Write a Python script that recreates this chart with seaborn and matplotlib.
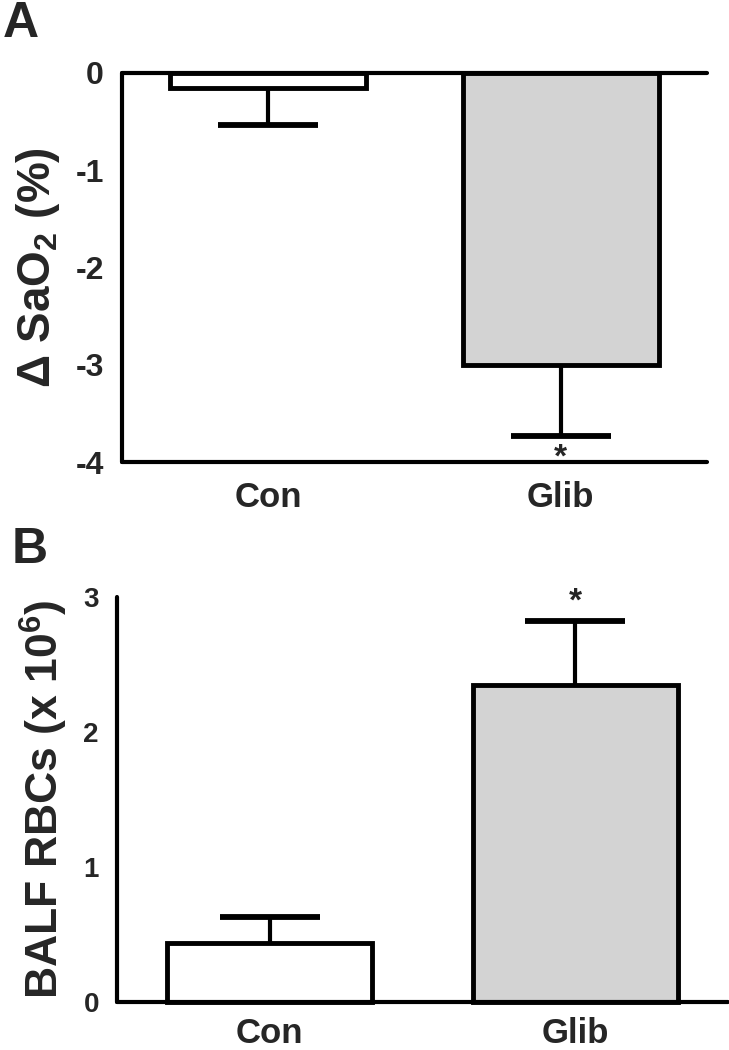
import numpy as np
import pandas as pd
import matplotlib
matplotlib.use('Agg')
import matplotlib.pyplot as plt
import seaborn as sns

groups = ['Con', 'Glib']
sao2_mean = [-0.15, -3.00]
sao2_sem = [0.38, 0.73]
rbc_mean = [0.44, 2.35]
rbc_sem = [0.19, 0.47]
bar_colors = ['white', '#d3d3d3']

sns.set_style('white')
plt.rcParams['font.family'] = ['Liberation Sans', 'DejaVu Sans']
plt.rcParams['font.weight'] = 'bold'
plt.rcParams['axes.unicode_minus'] = False
plt.rcParams['mathtext.fontset'] = 'custom'
plt.rcParams['mathtext.rm'] = 'Liberation Sans'
plt.rcParams['mathtext.bf'] = 'Liberation Sans:bold'
plt.rcParams['mathtext.default'] = 'bf'

narrow = ['Liberation Sans Narrow', 'Liberation Sans', 'DejaVu Sans']

fig = plt.figure(figsize=(7.29, 10.5), dpi=100)
ax1 = fig.add_axes([0.1674, 0.56, 0.8025, 0.3705])
ax2 = fig.add_axes([0.1605, 0.0457, 0.838, 0.3857])

lw = 3.0


def draw_panel(ax, mean, sem, ylabel, xpad, ysize, lsize):
    df = pd.DataFrame({'group': groups, 'value': mean})
    sns.barplot(data=df, x='group', y='value', hue='group', palette=bar_colors,
                edgecolor='black', linewidth=3.5, width=0.67, legend=False, ax=ax)
    for p in ax.patches:
        p.set_clip_on(False)
    xs = np.arange(len(groups))
    for x, m, e in zip(xs, mean, sem):
        yerr = [[e], [0]] if m < 0 else [[0], [e]]
        eb = ax.errorbar([x], [m], yerr=yerr, fmt='none', ecolor='black',
                         elinewidth=3.0, capsize=36, capthick=4.2, zorder=5)
        caps = eb[1]
        # keep only the cap at the far end of the bar
        if m < 0:
            caps[1].set_visible(False)
        else:
            caps[0].set_visible(False)
        for c in caps:
            c.set_clip_on(False)
        for b in eb[2]:
            b.set_clip_on(False)
    ax.set_xlim(-0.5, 1.5)
    ax.set_xlabel('')
    ax.set_ylabel(ylabel, fontsize=lsize, fontweight='bold', labelpad=10)
    ax.tick_params(axis='y', direction='out', length=7, width=lw, pad=6)
    ax.tick_params(axis='x', length=0, pad=xpad, labelsize=25)
    for lab in ax.get_xticklabels():
        lab.set_fontweight('bold')
    for lab in ax.get_yticklabels():
        lab.set_fontweight('bold')
        lab.set_family(narrow)
        lab.set_fontsize(ysize)
    for s in ax.spines.values():
        s.set_linewidth(lw)
        s.set_color('black')
        s.set_capstyle('round')


# panel A
ax1.set_ylim(-4, 0)
ax1.set_yticks([0, -1, -2, -3, -4])
draw_panel(ax1, sao2_mean, sao2_sem, r'$\mathrm{\Delta}$ SaO$_2$ (%)', 14, 23, 33)
ax1.set_ylim(-4, 0)
ax1.spines['right'].set_visible(False)
ax1.text(1, sao2_mean[1] - sao2_sem[1] - 0.07, '*', ha='center', va='top',
         fontsize=24, fontweight='bold')

# panel B
ax2.set_ylim(0, 3)
ax2.set_yticks([0, 1, 2, 3])
draw_panel(ax2, rbc_mean, rbc_sem, r'BALF RBCs (x 10$^6$)', 11, 20, 32)
ax2.set_ylim(0, 3)
ax2.spines['right'].set_visible(False)
ax2.spines['top'].set_visible(False)
ax2.text(1, rbc_mean[1] + rbc_sem[1] + 0.03, '*', ha='center', va='bottom',
         fontsize=24, fontweight='bold')

fig.text(0.004, 0.999, 'A', fontsize=36, fontweight='bold', va='top', ha='left')
fig.text(0.016, 0.498, 'B', fontsize=36, fontweight='bold', va='top', ha='left')

fig.savefig('out.png', dpi=100)
